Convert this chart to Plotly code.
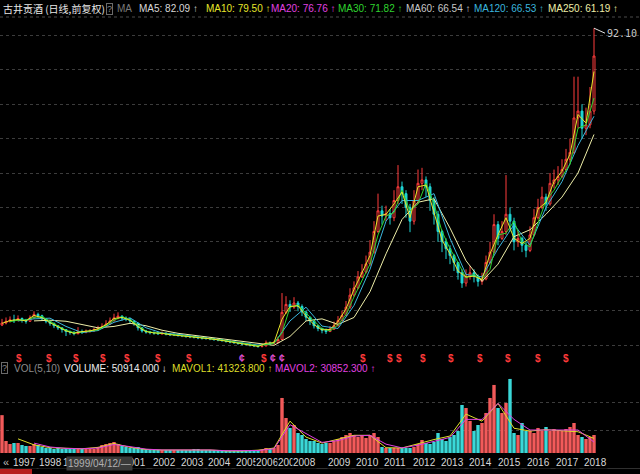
import plotly.graph_objects as go

W, H = 640, 474
def fx(px):
    return px / W
def fy(py):
    return 1 - py / H

# ---------------- data (one candle = one period of ~32 sessions) ----------------
first_open = 5.8
close = [6.4,6.9,7.3,7.1,7.7,7.2,6.9,7.9,8.9,8.5,
         7.6,6.9,6.3,5.6,5.0,4.5,3.9,3.7,3.3,3.9,
         3.8,4.0,4.1,4.4,4.8,5.4,6.1,7.0,7.9,8.4,
         7.8,7.6,7.0,6.3,5.0,4.1,3.8,3.6,3.5,3.3,
         3.4,3.2,3.0,3.0,2.8,2.7,2.5,2.4,2.3,2.1,
         2.0,1.9,1.8,1.6,1.5,1.3,1.1,0.9,0.7,0.5,
         0.3,0.2,0.0,-0.2,-0.4,-0.3,0.6,0.4,0.7,1.6,
         9.5,11.8,11.0,12.2,11.2,9.6,8.1,7.0,5.6,4.8,
         4.3,3.9,4.6,5.6,7.1,8.6,11.0,14.5,16.6,19.8,
         21.2,23.6,27.0,33.0,39.0,37.5,38.2,37.0,42.0,46.0,
         44.0,40.0,36.0,42.0,47.0,48.0,46.0,42.0,38.0,33.0,
         30.0,28.0,26.0,24.0,21.0,18.0,20.0,21.0,20.0,18.5,
         19.2,24.0,27.0,35.0,31.0,33.0,38.0,36.0,30.0,31.0,
         29.0,27.5,32.0,37.0,40.0,43.0,41.0,47.0,48.0,49.0,
         51.0,54.0,56.0,66.0,68.0,63.0,64.0,68.0,84.0]
high = [7.6,8.0,8.3,8.8,8.6,8.0,7.6,8.6,9.8,9.4,
        8.8,7.8,6.9,6.5,5.6,5.0,4.5,4.2,4.0,5.2,
        4.5,4.5,4.6,5.0,5.6,6.3,7.2,8.0,9.1,9.5,
        8.6,8.3,7.8,7.0,6.5,5.2,4.4,4.1,4.0,3.9,
        3.9,3.7,3.5,3.4,3.2,3.1,2.9,2.8,2.7,2.5,
        2.4,2.3,2.2,2.0,1.9,1.7,1.5,1.3,1.1,0.9,
        0.7,0.6,0.4,0.2,0.0,0.1,1.3,1.0,1.2,2.4,
        15.1,14.2,13.0,13.9,12.8,11.8,10.0,8.2,7.4,5.8,
        5.0,4.8,5.5,6.8,8.4,10.0,12.8,16.5,18.5,21.5,
        23.5,26.0,30.5,36.0,44.0,40.5,40.5,39.5,45.0,52.3,
        47.5,45.0,41.0,45.0,51.0,51.5,49.0,47.0,43.0,39.0,
        33.5,31.0,29.0,26.5,24.0,22.0,22.0,23.0,22.0,20.5,
        21.0,26.0,30.0,38.0,36.0,36.0,49.4,40.0,37.0,33.5,
        31.5,30.0,34.5,39.5,42.5,46.0,44.0,50.0,51.0,52.0,
        54.0,57.0,60.0,78.0,78.0,70.0,69.0,75.0,92.1]
low = [5.5,6.0,6.5,6.4,6.9,6.5,6.2,6.7,7.7,7.8,
       7.0,6.3,5.6,4.9,4.4,3.6,2.6,3.0,2.8,3.1,
       3.2,3.4,3.6,3.9,4.2,4.8,5.2,5.9,7.0,7.5,
       7.1,6.9,6.3,5.6,4.2,3.6,3.3,3.1,3.0,2.9,
       2.9,2.8,2.6,2.6,2.4,2.3,2.1,2.0,1.9,1.7,
       1.6,1.5,1.4,1.2,1.1,0.9,0.7,0.5,0.3,0.1,
       -0.1,-0.2,-0.4,-0.6,-0.8,-0.7,-0.1,0.0,0.2,0.5,
       1.4,9.0,9.6,10.5,9.8,8.4,7.0,5.8,4.8,4.0,
       3.4,3.2,3.8,4.4,5.4,6.9,8.4,10.5,14.0,16.2,
       19.5,20.8,23.0,26.5,32.5,35.0,36.0,35.0,36.0,41.0,
       41.0,37.0,32.8,35.0,41.0,45.0,43.0,39.0,35.0,30.0,
       27.0,25.0,23.5,21.5,19.0,16.6,17.0,19.0,18.2,17.0,
       17.5,18.8,23.5,26.5,29.0,30.5,32.0,33.0,27.5,28.5,
       27.0,25.5,27.0,31.5,36.5,39.5,39.0,40.5,45.5,46.5,
       48.5,50.5,53.0,55.5,63.0,60.0,61.0,63.0,67.0]
volume = [107000,34000,25500,28300,28300,22600,19800,19800,25500,22600,
          17000,14200,14200,11300,14200,11300,14200,11300,11300,14200,
          11300,11300,11300,11300,17000,22600,25500,28300,31100,25500,
          19800,17000,14200,14200,17000,11300,11300,8500,8500,8500,
          8500,8500,8500,8500,8500,8500,8500,8500,11300,11300,
          8500,8500,8500,8500,8500,8500,5700,5700,5700,5700,
          5700,5700,5700,5700,8500,8500,14200,11300,14200,22600,
          155600,99000,70800,79200,56600,50900,39600,34000,34000,28300,
          25500,28300,28300,34000,39600,45300,50900,56600,50900,45300,
          50900,42500,50900,56600,45300,17000,14200,14200,14200,14200,
          14200,14200,14200,17000,25500,36800,28300,25500,31100,56600,
          39600,34000,45300,50900,62300,135800,127300,90600,62300,79200,
          84900,113200,155600,192400,127300,113200,141500,209400,56600,50900,
          84900,62300,62300,56600,70800,62300,73600,62300,67900,62300,
          62300,67900,73600,84900,50900,45300,39600,45300,50914]

# moving averages (ma10/ma30 every 2 periods, others every 4)
ma10 = [6.3,7.1,7.4,7.0,8.6,7.9,6.5,5.2,4.1,3.4,
        3.9,4.1,4.7,5.9,7.7,8.0,7.2,5.3,3.9,3.5,
        3.4,3.0,2.8,2.5,2.3,2.0,1.8,1.5,1.1,0.7,
        0.3,0.0,-0.4,0.5,0.7,7.5,11.2,11.4,8.4,5.9,
        4.4,4.5,6.8,10.5,16.2,21.0,26.0,37.5,38.0,41.0,
        44.5,37.0,46.0,46.5,38.5,30.5,26.5,21.5,19.8,20.0,
        19.0,26.5,32.0,37.0,31.0,29.5,31.0,39.5,41.5,47.5,
        50.5,55.5,67.0,64.5,79.5]
ma30 = [None,6.8,7.2,7.3,8.0,8.3,6.8,5.5,4.3,3.6,
        3.8,4.0,4.4,5.6,7.2,8.2,7.4,5.8,4.0,3.6,
        3.4,3.1,2.9,2.6,2.4,2.1,1.9,1.6,1.3,0.9,
        0.5,0.2,-0.2,0.1,0.5,3.5,11.0,11.6,9.2,7.0,
        4.8,4.1,5.8,8.8,14.0,19.0,23.5,32.0,37.5,38.5,
        45.0,39.0,41.0,47.0,41.0,33.0,28.0,24.0,19.5,20.5,
        19.0,22.0,32.0,32.5,36.0,30.0,28.5,35.5,42.0,45.0,
        49.0,52.5,63.0,64.0,71.8]
ma120 = [None,7.0,7.6,7.8,5.4,3.6,4.2,6.6,7.9,5.0,
         3.5,3.1,2.5,2.0,1.4,0.6,0.0,0.5,7.0,11.0,
         5.5,4.8,11.5,22.0,36.0,42.0,42.0,44.0,31.0,20.5,
         19.8,28.0,35.0,29.0,40.0,47.5,58.0,66.5]
ma250 = [None,None,7.0,7.2,6.9,6.0,5.0,5.4,6.3,5.6,
         4.3,3.4,2.8,2.3,1.7,1.0,0.3,-0.1,2.5,7.0,
         7.6,6.0,8.0,15.5,26.5,36.5,41.5,42.5,34.0,24.5,
         18.5,23.5,31.5,33.5,38.0,43.0,50.0,61.2]
mavol1 = [None,40000,23000,15000,13000,12000,16000,27000,16000,10000,
          8500,8500,10000,8500,6000,5700,8000,14000,90000,45000,
          28000,38000,50000,50000,15000,14200,27000,38000,48000,110000,
          90000,140000,70000,62000,66000,64000,60000,41324]
mavol2 = [None,None,28000,17000,13000,12000,14000,24000,18000,11000,
          8600,8500,9500,8600,6500,5800,7000,12000,80000,55000,
          30000,35000,48000,50000,25000,14500,22000,33000,44000,95000,
          95000,140000,95000,65000,65000,64000,65000,30852]

year_labels = ['1997','1998','1999','2000','2001','2002','2003','2004','2005','2006','2007',
               '2008','2009','2010','2011','2012','2013','2014','2015','2016','2017','2018']
year_pos = [2.5,9,15,22.5,30,37.5,44.5,51.25,58.25,63.25,68.75,
            72.5,81.25,88.25,95.25,102.5,109.5,116.5,123.75,131,138.25,145.25]
div_pos = [4.25,11.75,18.5,25.25,31.25,39,46.75,65.5,90.25,97,99.25,105.25,112.25,119.5,126.5,134,141]
split_pos = [60,67.75,70]

# ---------------- figure ----------------
n = len(close)
xs = list(range(n))
opens = [first_open] + close[:-1]
x2 = list(range(0, n, 2))[:len(ma10)]
x4 = list(range(0, n, 4))[:len(ma120)]

UP, DN = '#ff3c3c', '#1fd6d6'
fig = go.Figure()
fig.add_trace(go.Candlestick(x=xs, open=opens, high=high, low=low, close=close,
                             increasing=dict(line=dict(color=UP, width=1), fillcolor='rgba(0,0,0,0)'),
                             decreasing=dict(line=dict(color=DN, width=1), fillcolor=DN),
                             whiskerwidth=0, xaxis='x', yaxis='y', hoverinfo='skip'))
for xv, yv, col in [(x4, ma250, '#eeeea8'), (x4, ma120, '#3bb6de'),
                    (x2, ma30, '#2fd42f'), (x2, ma10, '#e6e62a')]:
    fig.add_trace(go.Scatter(x=xv, y=yv, mode='lines', line=dict(color=col, width=1),
                             xaxis='x', yaxis='y', hoverinfo='skip', connectgaps=False))

vcol = ['#f25a5a' if c >= o else '#3ad8d8' for o, c in zip(opens, close)]
fig.add_trace(go.Bar(x=xs, y=volume, marker=dict(color=vcol, line=dict(width=0)), width=0.85,
                     xaxis='x', yaxis='y2', hoverinfo='skip'))
fig.add_trace(go.Scatter(x=x4, y=mavol1, mode='lines', line=dict(color='#dede2a', width=1),
                         xaxis='x', yaxis='y2', hoverinfo='skip'))
fig.add_trace(go.Scatter(x=x4, y=mavol2, mode='lines', line=dict(color='#e040e0', width=1),
                         xaxis='x', yaxis='y2', hoverinfo='skip'))

LAT = 'Liberation Sans, Arial, sans-serif'
CJK = 'Noto Sans CJK SC, sans-serif'
ann = []
def txt(px, py, s, color, size=10, family=LAT, **kw):
    ann.append(dict(x=fx(px), y=fy(py), xref='paper', yref='paper', text=s, showarrow=False,
                    xanchor='left', yanchor='middle', font=dict(color=color, size=size, family=family), **kw))

# header line
txt(1, 9, '古井贡酒 (日线,前复权)', '#e8e8e8', 10, CJK)
ann.append(dict(x=fx(106), y=fy(9), xref='paper', yref='paper', text='?', showarrow=False,
                xanchor='left', yanchor='middle', font=dict(color='#8a8a8a', size=9, family=LAT),
                bordercolor='#6a6a6a', borderwidth=1, borderpad=0))
txt(115, 9, 'MA', '#7a7a7a')
txt(137, 9, 'MA5: 82.09 ↑', '#d8d8d8')
txt(204, 9, 'MA10: 79.50 ↑', '#e6e62a')
txt(269, 9, 'MA20: 76.76 ↑', '#e040e0')
txt(336, 9, 'MA30: 71.82 ↑', '#2fd42f')
txt(404, 9, 'MA60: 66.54 ↑', '#c8c8c8')
txt(472, 9, 'MA120: 66.53 ↑', '#3bb6de')
txt(546, 9, 'MA250: 61.19 ↑', '#eeeea8')

# volume header
ann.append(dict(x=fx(1), y=fy(368), xref='paper', yref='paper', text='?', showarrow=False,
                xanchor='left', yanchor='middle', font=dict(color='#8a8a8a', size=9, family=LAT),
                bordercolor='#6a6a6a', borderwidth=1, borderpad=0))
txt(12, 368, 'VOL(5,10)', '#8c8c8c')
txt(62, 368, 'VOLUME: 50914.000 ↓', '#ececec')
txt(170, 368, 'MAVOL1: 41323.800 ↑', '#dede2a')
txt(273, 368, 'MAVOL2: 30852.300 ↑', '#e040e0')

# price peak label
ann.append(dict(x=n - 1, y=max(high), xref='x', yref='y', text='92.10', showarrow=True,
                arrowhead=0, arrowwidth=1, arrowcolor='#e0e0e0', ax=11, ay=5,
                xanchor='left', font=dict(color='#c8c8c8', size=10, family='DejaVu Sans Mono')))

# dividend / split markers
for p in div_pos:
    ann.append(dict(x=p, y=fy(358), xref='x', yref='paper', text='<b>$</b>', showarrow=False,
                    yanchor='middle', font=dict(color='#ff3a3a', size=10, family=LAT)))
for p in split_pos:
    ann.append(dict(x=p, y=fy(358), xref='x', yref='paper', text='<b>¢</b>', showarrow=False,
                    yanchor='middle', font=dict(color='#e050d0', size=10, family=LAT)))

# x axis labels
ann.append(dict(x=fx(1), y=fy(462), xref='paper', yref='paper', text='«', showarrow=False,
                xanchor='left', yanchor='middle', font=dict(color='#bbbbbb', size=11, family=LAT)))
for lab, p in zip(year_labels, year_pos):
    ann.append(dict(x=p, y=fy(462), xref='x', yref='paper', text=lab, showarrow=False,
                    xanchor='left', yanchor='middle', bgcolor='#000000', borderpad=0,
                    font=dict(color='#d8d8d8', size=10, family=LAT)))
ann.append(dict(x=fx(66), y=fy(463), xref='paper', yref='paper', text='1999/04/12/—', showarrow=False,
                xanchor='left', yanchor='middle', bgcolor='#3a3a3a', borderpad=1,
                font=dict(color='#b0b0b0', size=10, family=LAT)))

shapes = [
    dict(type='line', xref='paper', yref='paper', x0=0, x1=1, y0=fy(17), y1=fy(17),
         line=dict(color='#4a4a4a', width=1, dash='dot')),
    dict(type='rect', xref='paper', yref='paper', x0=0, x1=fx(32), y0=0, y1=fy(469),
         fillcolor='#b81e1e', line=dict(width=0)),
    dict(type='line', xref='paper', yref='paper', x0=0, x1=1, y0=fy(468.5), y1=fy(468.5),
         line=dict(color='#303030', width=1)),
]

fig.update_layout(
    width=W, height=H, autosize=False, margin=dict(l=0, r=0, t=0, b=0),
    paper_bgcolor='#000000', plot_bgcolor='#000000', showlegend=False,
    xaxis=dict(range=[-0.5, 159.5], showgrid=False, zeroline=False, showticklabels=False,
               rangeslider=dict(visible=False), fixedrange=True, anchor='y2'),
    yaxis=dict(domain=[fy(362), fy(17)], range=[(345 - 362) / 3.44, (345 - 17) / 3.44],
               tickvals=[0, 10, 20, 30, 40, 50, 60, 70, 80, 90], showticklabels=False,
               showgrid=True, gridcolor='#3c3c3c', griddash='dot', gridwidth=1, zeroline=False),
    yaxis2=dict(domain=[fy(453), fy(372)], range=[0, 229000], tickvals=[65000, 144000],
                showticklabels=False, showgrid=True, gridcolor='#3c3c3c', griddash='dot',
                zeroline=False),
    annotations=ann, shapes=shapes, bargap=0.1,
)
fig.write_html('out.html', config={'displayModeBar': False},
               post_script="document.body.style.margin='0px';document.body.style.padding='0px';"
                           "document.body.style.background='#000';")
